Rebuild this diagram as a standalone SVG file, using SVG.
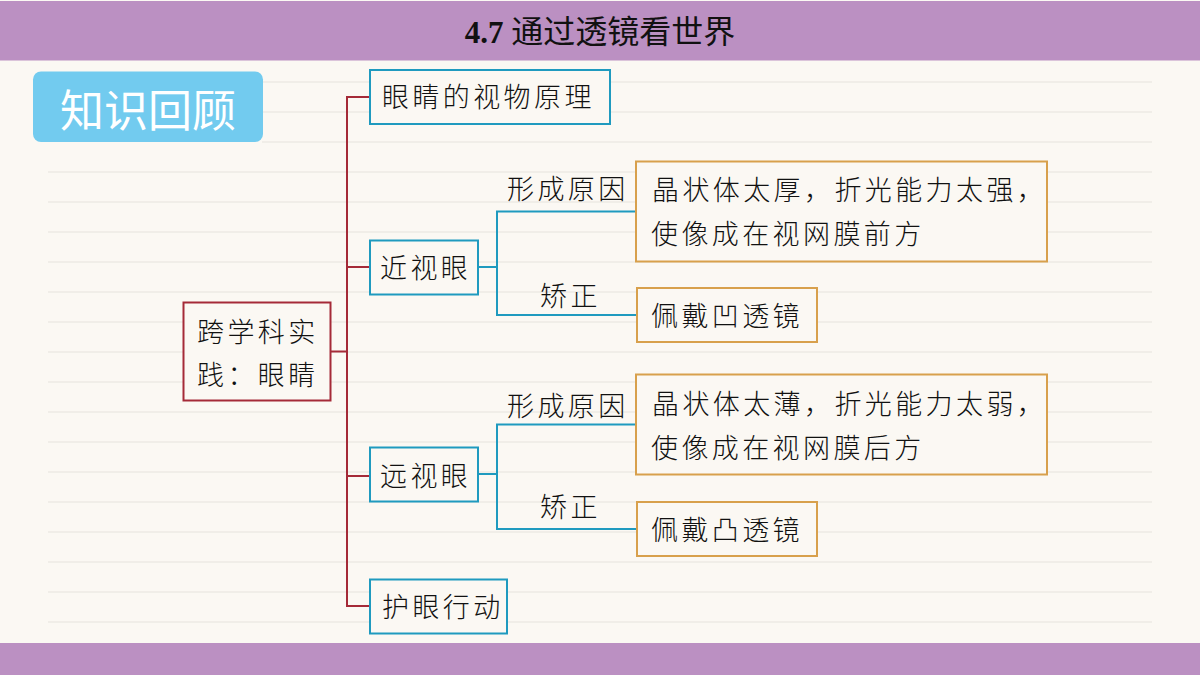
<svg xmlns="http://www.w3.org/2000/svg" width="1200" height="675" viewBox="0 0 1200 675">
<style>
.t{font-family:"Noto Sans CJK SC","Noto Sans",sans-serif;font-size:27px;font-weight:300;fill:#111;letter-spacing:3.4px}
.blue{fill:#fbf8f3;stroke:#1f9abf;stroke-width:2}
.gold{fill:#fbf8f3;stroke:#d8a04c;stroke-width:2}
.red{fill:#fbf8f3;stroke:#a52a38;stroke-width:2}
.cr{fill:none;stroke:#a52a38;stroke-width:2}
.cb{fill:none;stroke:#1f9abf;stroke-width:2}
.rule{stroke:#e6e3dd;stroke-width:1}
</style>
<rect width="1200" height="675" fill="#fbf8f3"/>
<g id="rules">
<path class="rule" d="M262 82H1152M262 112H1152M262 142H1152M48 172H1152M48 202H1152M48 232H1152M48 262H1152M48 292H1152M48 322H1152M48 352H1152M48 382H1152M48 412H1152M48 442H1152M48 472H1152M48 502H1152M48 532H1152M48 562H1152M48 592H1152M48 622H1152"/>
</g>
<rect x="0" y="1" width="1200" height="59.500" fill="#bb90c2"/>
<rect x="0" y="643" width="1200" height="32" fill="#bb90c2"/>
<text x="600" y="43" text-anchor="middle" font-family="'Liberation Serif','Noto Sans CJK SC',serif" font-size="31" font-weight="700" fill="#111">4.7 <tspan font-family="'Noto Sans CJK SC',sans-serif" font-weight="400" font-size="32">通过透镜看世界</tspan></text>
<g id="badge">
<rect x="33" y="71.500" width="230" height="70.500" rx="8" fill="#72cbef"/>
<text x="60" y="127" font-family="'Noto Sans CJK SC',sans-serif" font-size="44" font-weight="400" fill="#fff">知识回顾</text>
</g>
<g id="connectors">
<path class="cr" d="M330 351.500H347M369 97H347V606H369M347 267H369M347 476H369"/>
<path class="cb" d="M478 267H497M636 211.500H497V315H637"/>
<path class="cb" d="M478 474H497M636 424.500H497V529H637"/>
</g>
<g id="root"><rect class="red" x="183.500" y="302.500" width="147" height="98"/>
<text class="t" x="197" y="342">跨学科实</text><text class="t" x="197" y="385">践：眼睛</text></g>
<g id="n1"><rect class="blue" x="370" y="70" width="240" height="54"/><text class="t" x="382" y="107">眼睛的视物原理</text></g>
<g id="n2"><rect class="blue" x="370" y="240.500" width="108" height="54"/><text class="t" x="380" y="278">近视眼</text></g>
<g id="n3"><rect class="blue" x="370" y="447.500" width="108" height="54"/><text class="t" x="380" y="486">远视眼</text></g>
<g id="n4"><rect class="blue" x="370" y="579.500" width="137" height="54"/><text class="t" x="382" y="617">护眼行动</text></g>
<g id="l1"><text class="t" x="507" y="199">形成原因</text></g>
<g id="l2"><text class="t" x="540" y="306">矫正</text></g>
<g id="l3"><text class="t" x="507" y="416">形成原因</text></g>
<g id="l4"><text class="t" x="540" y="517">矫正</text></g>
<g id="a1"><rect class="gold" x="636" y="161.500" width="411" height="100"/>
<text class="t" x="652" y="200">晶状体太厚，折光能力太强，</text><text class="t" x="651" y="244">使像成在视网膜前方</text></g>
<g id="a2"><rect class="gold" x="637" y="288" width="180" height="54"/><text class="t" x="651" y="326">佩戴凹透镜</text></g>
<g id="a3"><rect class="gold" x="636" y="374.500" width="411" height="100"/>
<text class="t" x="652" y="414">晶状体太薄，折光能力太弱，</text><text class="t" x="651" y="458">使像成在视网膜后方</text></g>
<g id="a4"><rect class="gold" x="637" y="502" width="180" height="54"/><text class="t" x="651" y="540">佩戴凸透镜</text></g>
</svg>
